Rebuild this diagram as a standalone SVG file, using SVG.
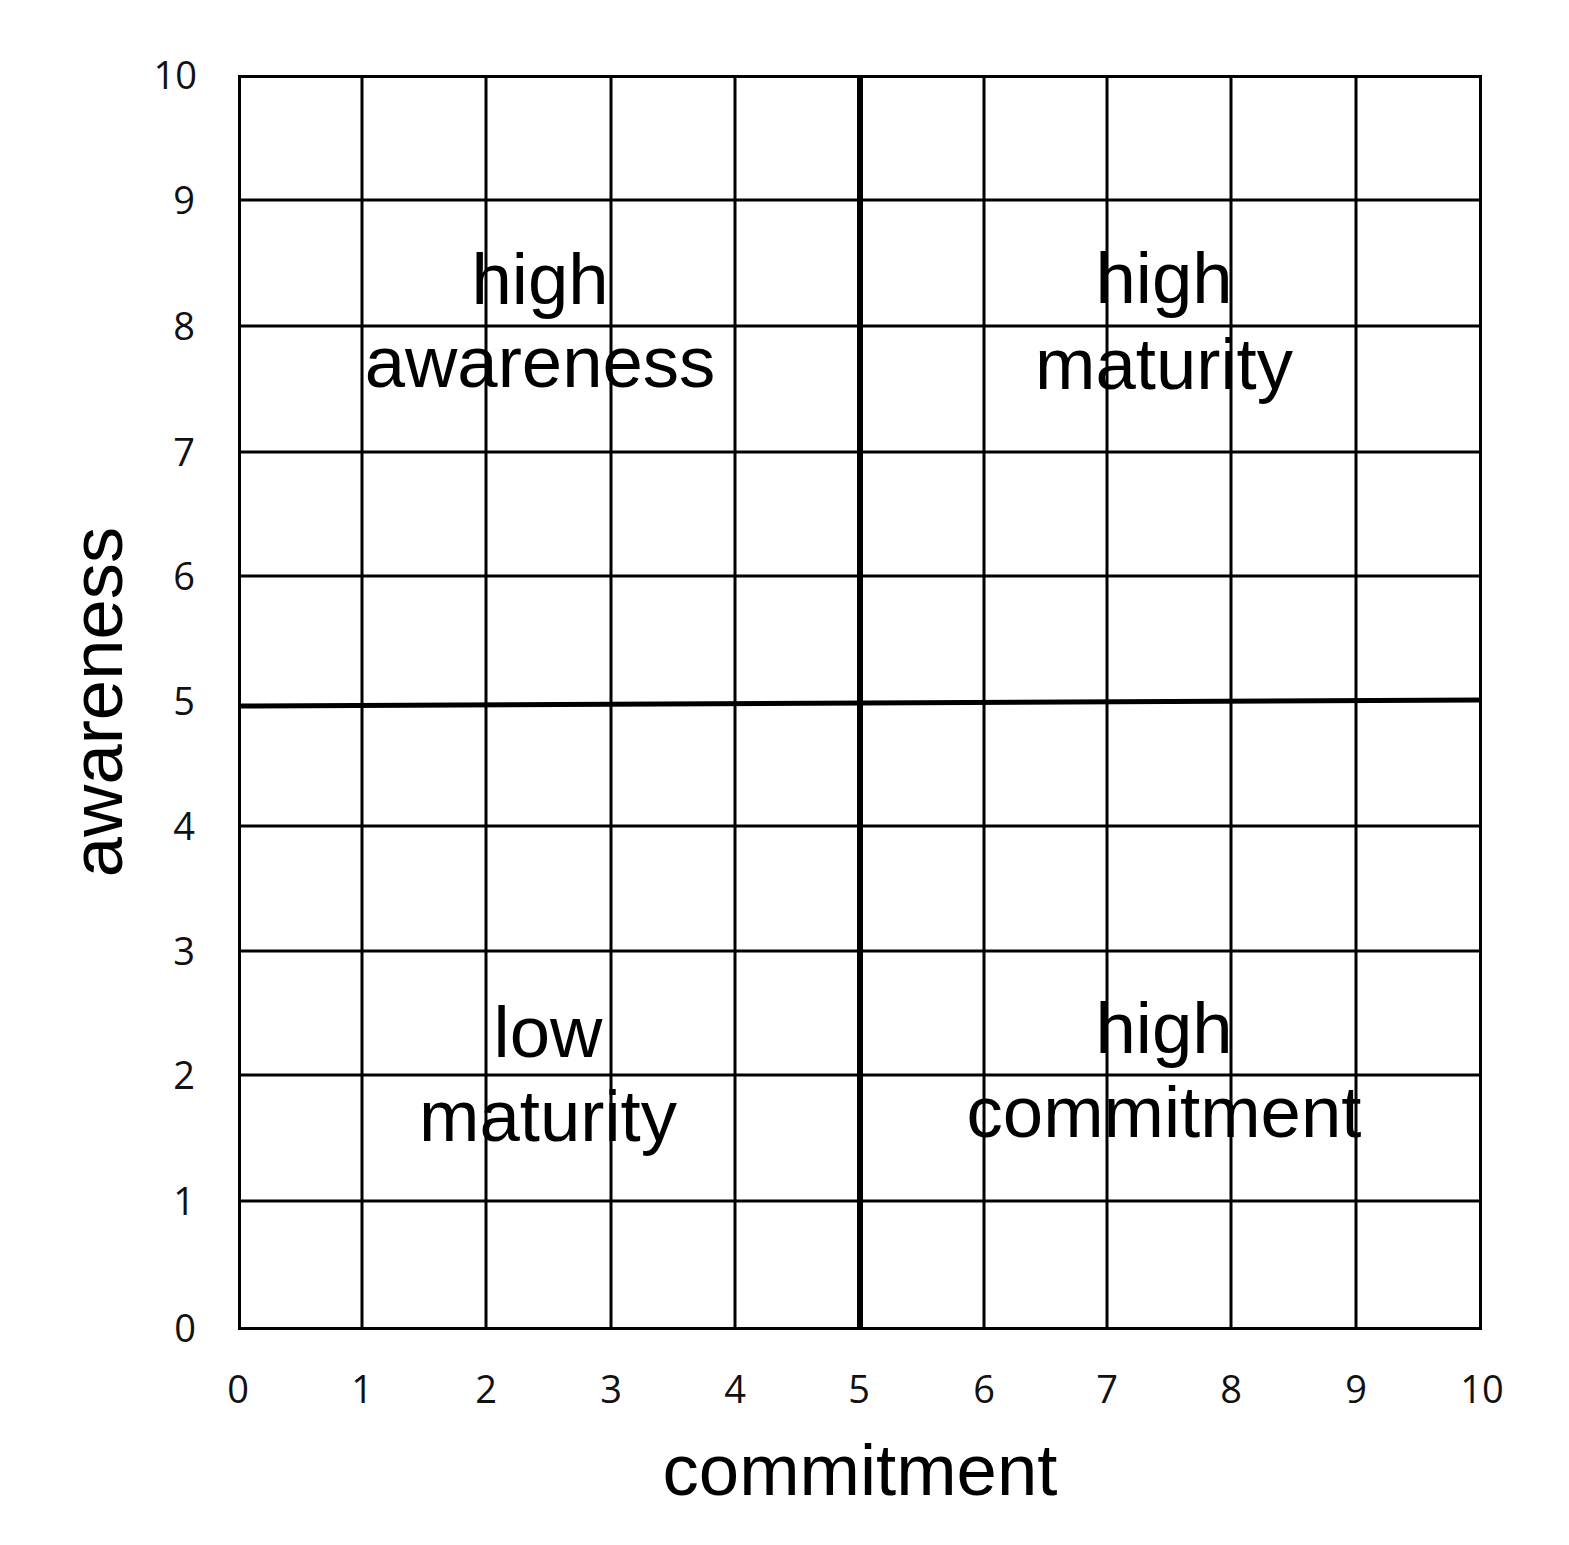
<svg xmlns="http://www.w3.org/2000/svg" width="1569" height="1545" viewBox="0 0 1569 1545">
<style>
.g{stroke:#000;stroke-width:3;fill:none}
.c{stroke:#000;stroke-width:6;fill:none}
.t{font-family:"Open Sans","DejaVu Sans",sans-serif;font-size:38px;fill:#111}
.q{font-family:"Liberation Sans",Arial,sans-serif;font-size:72.5px;fill:#000;text-anchor:middle}
</style>
<rect width="1569" height="1545" fill="#fff"/>
<g id="grid">
<g class="g">
<line x1="362" y1="76" x2="362" y2="1329"/>
<line x1="486" y1="76" x2="486" y2="1329"/>
<line x1="611" y1="76" x2="611" y2="1329"/>
<line x1="735" y1="76" x2="735" y2="1329"/>
<line x1="984" y1="76" x2="984" y2="1329"/>
<line x1="1107" y1="76" x2="1107" y2="1329"/>
<line x1="1231" y1="76" x2="1231" y2="1329"/>
<line x1="1356" y1="76" x2="1356" y2="1329"/>
<line x1="239" y1="200" x2="1480" y2="200"/>
<line x1="239" y1="326" x2="1480" y2="326"/>
<line x1="239" y1="452" x2="1480" y2="452"/>
<line x1="239" y1="576" x2="1480" y2="576"/>
<line x1="239" y1="826" x2="1480" y2="826"/>
<line x1="239" y1="951" x2="1480" y2="951"/>
<line x1="239" y1="1075" x2="1480" y2="1075"/>
<line x1="239" y1="1201" x2="1480" y2="1201"/>
<rect x="239.5" y="76.5" width="1241" height="1252"/>
</g>
</g>
<g id="connectors">
<line class="c" x1="860" y1="76" x2="860" y2="1329"/>
<line x1="239" y1="706" x2="1480" y2="700" stroke="#000" stroke-width="5"/>
</g>
<g id="y-ticks" class="t" text-anchor="end">
<text x="197" y="89">10</text>
<text x="195" y="214">9</text>
<text x="195" y="340">8</text>
<text x="195" y="466">7</text>
<text x="195" y="590">6</text>
<text x="195" y="715">5</text>
<text x="195" y="840">4</text>
<text x="195" y="965">3</text>
<text x="195" y="1089">2</text>
<text x="195" y="1215">1</text>
<text x="196" y="1342">0</text>
</g>
<g id="x-ticks" class="t" text-anchor="middle">
<text x="238" y="1403">0</text>
<text x="362" y="1403">1</text>
<text x="486" y="1403">2</text>
<text x="611" y="1403">3</text>
<text x="735" y="1403">4</text>
<text x="859" y="1403">5</text>
<text x="984" y="1403">6</text>
<text x="1107" y="1403">7</text>
<text x="1231" y="1403">8</text>
<text x="1356" y="1403">9</text>
<text x="1482" y="1403">10</text>
</g>
<g id="axis-x"><text class="q" x="860" y="1495">commitment</text></g>
<g id="axis-y"><text class="q" transform="translate(122,702) rotate(-90)">awareness</text></g>
<g id="q-high-awareness"><text class="q" x="540" y="304">high</text><text class="q" x="540" y="387">awareness</text></g>
<g id="q-high-maturity"><text class="q" x="1164" y="303">high</text><text class="q" x="1164" y="389">maturity</text></g>
<g id="q-low-maturity"><text class="q" x="548" y="1057">low</text><text class="q" x="548" y="1141">maturity</text></g>
<g id="q-high-commitment"><text class="q" x="1164" y="1053">high</text><text class="q" x="1164" y="1137">commitment</text></g>
</svg>
